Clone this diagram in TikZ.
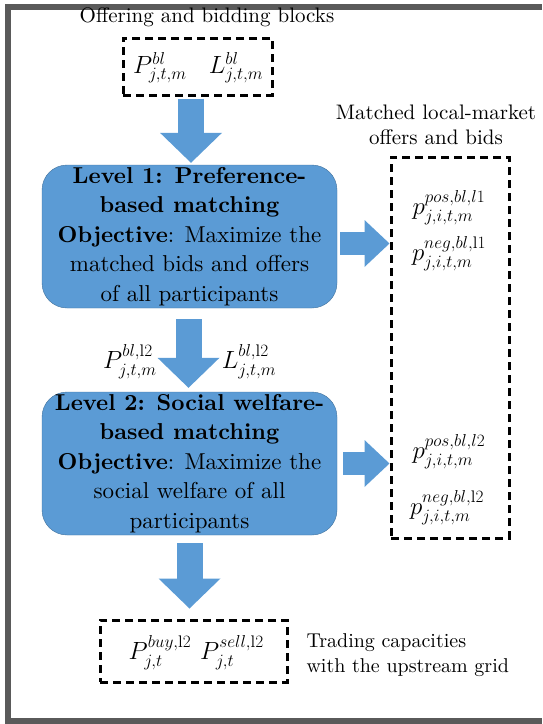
\documentclass[tikz,border=0pt]{standalone}
\usepackage{amsmath}
\usepackage{fontspec}
\setmainfont{lmroman10-regular.otf}[BoldFont=lmroman10-bold.otf, ItalicFont=lmroman10-italic.otf]
\usetikzlibrary{arrows.meta}

\definecolor{boxblue}{HTML}{5B9BD5}
\definecolor{boxedge}{HTML}{41719C}
\definecolor{framegray}{HTML}{5A5A5A}

\begin{document}
\begin{tikzpicture}[x=1pt,y=-1pt,
	levelbox/.style={draw=boxedge, fill=boxblue, rounded corners=25pt, minimum width=295pt, minimum height=143pt, inner sep=0pt, align=center, font=\fontsize{23}{29.5}\selectfont},
	dashbox/.style={draw, line width=3pt, dash pattern=on 8pt off 5pt, inner sep=0pt},
	downarrow/.style={draw=boxblue, line width=26pt, -{Triangle[width=62pt,length=30pt,line width=0pt]}},
	sidearrow/.style={draw=boxblue, line width=23pt, -{Triangle[width=47pt,length=25pt,line width=0pt]}},
	note/.style={font=\fontsize{21}{25}\selectfont, align=center},
	var/.style={font=\fontsize{24}{28}\selectfont, inner sep=0pt}]
				\useasboundingbox (0,0) rectangle (542,724);
				\draw[framegray, line width=6pt] (542,7) -- (8,7) -- (8,721) -- (542,721);
				
				% inputs
				\node[note] (title) at (207,17) {Offering and bidding blocks};
				\node[dashbox, minimum width=149pt, minimum height=57pt] (blocks) at (197.5,66.5) {};
				\node[var] (pbl) at (160,68) {$P^{bl}_{j,t,m}$};
				\node[var] (lbl) at (236,68) {$L^{bl}_{j,t,m}$};
				
				% two matching levels
				\node[levelbox] (level1) at (189.5,236.5) {\textbf{Level 1: Preference-}\\\textbf{based matching}\\\textbf{Objective}: Maximize the\\matched bids and offers\\of all participants};
				\node[levelbox] (level2) at (189.5,463.5) {\textbf{Level 2: Social welfare-}\\\textbf{based matching}\\\textbf{Objective}: Maximize the\\social welfare of all\\participants};
				
				% matched offers and bids
				\node[note] (matchtitle) at (436,125) {Matched local-market\\offers and bids};
				\node[dashbox, minimum width=118pt, minimum height=381pt] (match) at (450,347.5) {};
				\node[var] (pos1) at (449,208) {$p^{pos,bl,l1}_{j,i,t,m}$};
				\node[var] (neg1) at (449,254) {$p^{neg,bl,\mathrm{l}1}_{j,i,t,m}$};
				\node[var] (pos2) at (449,452) {$p^{pos,bl,l2}_{j,i,t,m}$};
				\node[var] (neg2) at (447,508) {$p^{neg,bl,\mathrm{l}2}_{j,i,t,m}$};
				
				% upstream grid
				\node[dashbox, minimum width=187pt, minimum height=62pt] (grid) at (193.5,651) {};
				\node[var] (pbuy) at (160,653) {$P^{buy,\mathrm{l}2}_{j,t}$};
				\node[var] (psell) at (232,653) {$P^{sell,\mathrm{l}2}_{j,t}$};
				\node[note, font=\fontsize{20}{25}\selectfont, align=left, anchor=west] (gridtitle) at (303,655) {Trading capacities\\with the upstream grid};
				
				% block arrows
				\draw[downarrow] ([xshift=-6.5pt,yshift=-2pt]blocks.south) -- ([xshift=-6.5pt,yshift=2pt]blocks.south |- level1.north);
				\draw[downarrow] ([xshift=-1pt,yshift=-11pt]level1.south) -- ([xshift=-1pt,yshift=4pt]level2.north);
				\draw[downarrow] ([yshift=-8pt]level2.south) -- ([yshift=10pt]level2.south |- grid.north);
				\draw[sidearrow] ([xshift=3pt,yshift=-7pt]level1.east) -- ([yshift=-7pt]level1.east -| match.west);
				\draw[sidearrow] ([xshift=6pt]level2.east) -- (level2.east -| match.west);
				
				\node[var] (lab1) at (130,362) {$P^{bl,\mathrm{l}2}_{j,t,m}$};
				\node[var] (lab2) at (249,362) {$L^{bl,\mathrm{l}2}_{j,t,m}$};
			\end{tikzpicture}
\end{document}
